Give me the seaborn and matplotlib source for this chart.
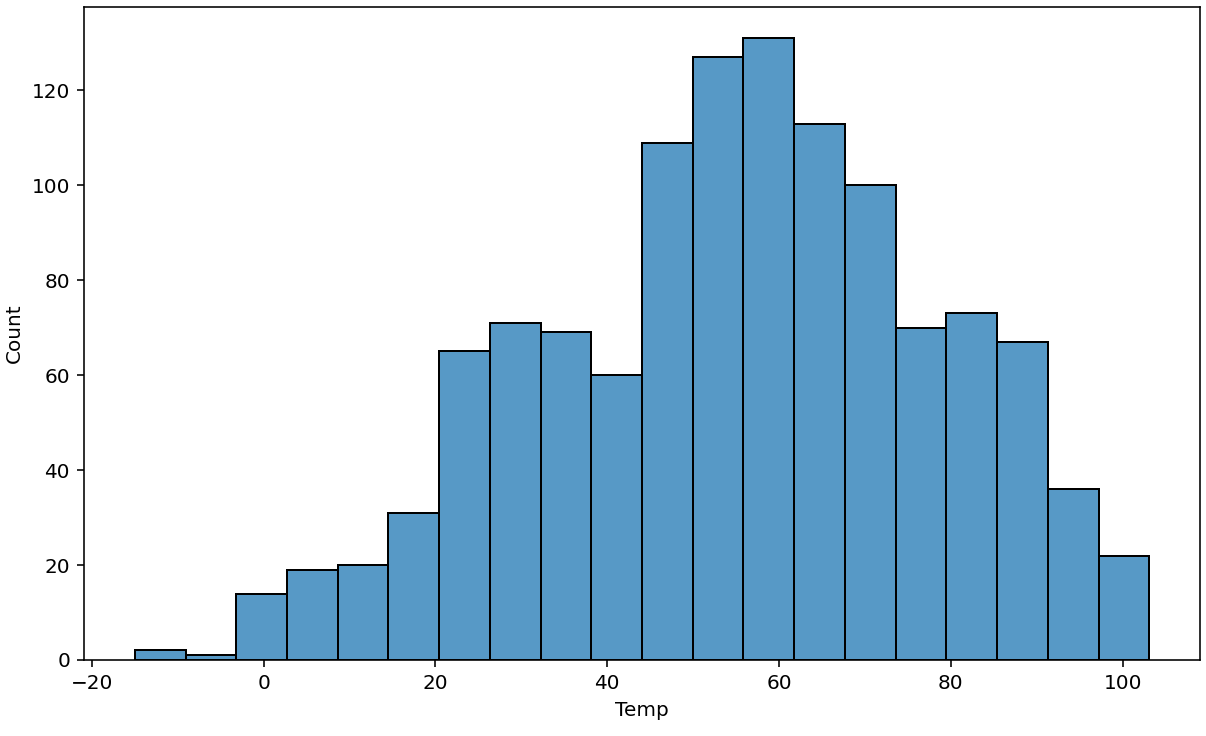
import numpy as np
import pandas as pd
import matplotlib
matplotlib.use("Agg")
import matplotlib.pyplot as plt
import seaborn as sns

# Histogram bin counts
counts = [2, 1, 14, 19, 20, 31, 65, 71, 69, 60, 109, 127, 131, 113, 100, 70, 73, 67, 36, 22]
bin_start = -15.0
bin_end = 103.1

edges = np.linspace(bin_start, bin_end, len(counts) + 1)
centers = (edges[:-1] + edges[1:]) / 2
df = pd.DataFrame({"Temp": centers, "w": counts})

DPI = 144
fig, ax = plt.subplots(figsize=(1206 / DPI, 736 / DPI), dpi=DPI)
fig.subplots_adjust(left=0.0697, right=0.995, top=0.9905, bottom=0.1033)
sns.histplot(data=df, x="Temp", weights="w", bins=len(counts),
             binrange=(bin_start, bin_end), ax=ax,
             edgecolor="black", linewidth=1.0)
ax.set_xlabel("Temp")
ax.set_ylabel("Count")
fig.savefig("out.png", dpi=DPI)
